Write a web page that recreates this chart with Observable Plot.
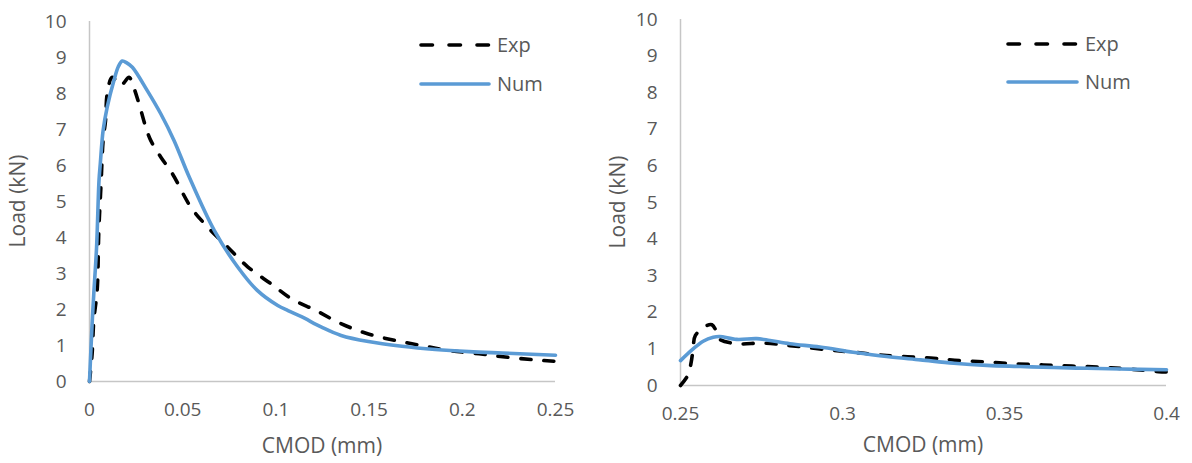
<!DOCTYPE html>
<html>
<head>
<meta charset="utf-8">
<script src="https://cdn.jsdelivr.net/npm/d3@7"></script>
<script src="https://cdn.jsdelivr.net/npm/@observablehq/plot@0.6"></script>
<style>
  html, body { margin: 0; padding: 0; background: #ffffff; }
  #wrap { position: relative; width: 1192px; height: 463px; overflow: hidden; }
  #left, #right { position: absolute; top: 0; }
  #left { left: 0; }
  #right { left: 596px; }
  svg { font-family: "Open Sans", sans-serif; }
</style>
</head>
<body>
<div id="wrap"><div id="left"></div><div id="right"></div></div>
<script>
// ---- Data (CMOD in mm, Load in kN) ----
const seriesNames = ["Exp", "Num"];

const leftExpX = [0, 0.0014, 0.0023, 0.0041, 0.005, 0.0062, 0.0073, 0.0086, 0.0095, 0.0122, 0.0167, 0.0212, 0.023, 0.0266, 0.0302, 0.0329, 0.0383, 0.0445, 0.0544, 0.0634, 0.0742, 0.085, 0.0975, 0.1083, 0.1215, 0.1352, 0.1496, 0.164, 0.178, 0.193, 0.209, 0.223, 0.239, 0.25];
const leftExpY = [0, 0.77, 1.69, 2.53, 4.19, 5.5, 6.69, 7.25, 7.99, 8.45, 8.22, 8.45, 8.27, 7.71, 7.06, 6.69, 6.23, 5.77, 4.84, 4.29, 3.73, 3.18, 2.71, 2.30, 1.97, 1.60, 1.32, 1.14, 1.0, 0.86, 0.77, 0.68, 0.6, 0.56];

const leftNumX = [0, 0.0014, 0.0023, 0.0038, 0.0051, 0.0058, 0.0073, 0.0095, 0.0131, 0.0155, 0.0176, 0.02, 0.023, 0.031, 0.0383, 0.0454, 0.0535, 0.067, 0.0795, 0.090, 0.101, 0.1065, 0.1137, 0.1245, 0.135, 0.1496, 0.1676, 0.1855, 0.2035, 0.2214, 0.25];
const leftNumY = [0, 1.6, 2.44, 3.73, 5.58, 6.05, 6.97, 7.62, 8.36, 8.75, 8.9, 8.85, 8.73, 8.08, 7.43, 6.69, 5.68, 4.19, 3.18, 2.53, 2.11, 1.97, 1.80, 1.51, 1.28, 1.11, 0.98, 0.89, 0.83, 0.79, 0.73];

const rightExpX = [0.25, 0.2524, 0.2533, 0.2539, 0.2546, 0.2582, 0.2597, 0.2612, 0.2618, 0.2673, 0.2755, 0.2838, 0.293, 0.3033, 0.3136, 0.3272, 0.3364, 0.3451, 0.3539, 0.362, 0.3708, 0.3796, 0.3883, 0.3975, 0.4];
const rightExpY = [0, 0.3, 0.64, 1.0, 1.37, 1.64, 1.66, 1.45, 1.28, 1.14, 1.16, 1.09, 1.0, 0.91, 0.82, 0.75, 0.68, 0.64, 0.59, 0.56, 0.53, 0.50, 0.45, 0.38, 0.37];

const rightNumX = [0.25, 0.2539, 0.257, 0.2601, 0.2621, 0.2673, 0.2735, 0.2776, 0.2838, 0.293, 0.3033, 0.3136, 0.3241, 0.3343, 0.3446, 0.3549, 0.3652, 0.3755, 0.3858, 0.4];
const rightNumY = [0.68, 1.0, 1.21, 1.32, 1.34, 1.26, 1.28, 1.23, 1.14, 1.05, 0.91, 0.79, 0.70, 0.61, 0.55, 0.52, 0.49, 0.47, 0.45, 0.43];

const leftXTicks = [0, 0.05, 0.1, 0.15, 0.2, 0.25];
const rightXTicks = [0.25, 0.3, 0.35, 0.4];
const yTicks = [0, 1, 2, 3, 4, 5, 6, 7, 8, 9, 10];

const xTitle = "CMOD (mm)";
const yTitle = "Load (kN)";

// ---- Styles ----
const textColor = "#595959";
const axisColor = "#c6c6c6";
const expColor = "#000000";
const numColor = "#5b9bd5";
const dash = "10,13";

const toRows = (xs, ys) => xs.map((x, i) => ({x, y: ys[i]}));

function panel(cfg) {
  const exp = toRows(cfg.expX, cfg.expY);
  const num = toRows(cfg.numX, cfg.numY);
  const svg = Plot.plot({
    width: 596,
    height: 463,
    marginLeft: cfg.ml,
    marginRight: cfg.mr,
    marginTop: cfg.mt,
    marginBottom: cfg.mb,
    style: {fontFamily: "'Open Sans', sans-serif", fontSize: "19px", color: textColor, background: "#ffffff"},
    x: {domain: cfg.xDomain, ticks: cfg.xTicks},
    y: {domain: [0, 10], ticks: yTicks},
    marks: [
      Plot.axisX({ticks: cfg.xTicks, tickSize: 0, tickPadding: 21, tickFormat: d => String(+d.toFixed(2)), label: null, fontSize: 19, fill: textColor}),
      Plot.axisY({ticks: yTicks, tickSize: 0, tickPadding: 23, label: null, fontSize: 19, fill: textColor}),
      Plot.ruleY([0], {stroke: axisColor, strokeWidth: 1.5}),
      Plot.ruleX([cfg.xDomain[0]], {stroke: axisColor, strokeWidth: 1.5}),
      Plot.line(exp, {x: "x", y: "y", stroke: expColor, strokeWidth: 3.6, strokeDasharray: dash, strokeLinecap: "round", curve: "catmull-rom"}),
      Plot.line(num, {x: "x", y: "y", stroke: numColor, strokeWidth: 3.6, curve: "catmull-rom"})
    ]
  });
  const s = d3.select(svg);
  // axis titles
  s.append("text")
    .attr("transform", `translate(${cfg.yTitleX},${cfg.yTitleY}) rotate(-90)`)
    .attr("text-anchor", "middle").attr("dy", "0.35em")
    .attr("fill", textColor).style("font-size", "21px").text(yTitle);
  s.append("text")
    .attr("x", cfg.xTitleX).attr("y", cfg.xTitleY)
    .attr("text-anchor", "middle").attr("dy", "0.35em")
    .attr("fill", textColor).style("font-size", "21px").text(xTitle);
  // legend
  const lg = s.append("g");
  seriesNames.forEach((name, i) => {
    const y = cfg.legY[i];
    lg.append("line").attr("x1", cfg.legX1).attr("x2", cfg.legX2).attr("y1", y).attr("y2", y)
      .attr("stroke", i === 0 ? expColor : numColor).attr("stroke-width", 3.6)
      .attr("stroke-linecap", "round")
      .attr("stroke-dasharray", i === 0 ? "11.5,16.5" : null);
    lg.append("text").attr("x", cfg.legText).attr("y", y).attr("dy", "0.35em")
      .attr("text-anchor", "start")
      .attr("fill", textColor).style("font-size", "20px").text(name);
  });
  return svg;
}

document.getElementById("left").appendChild(panel({
  expX: leftExpX, expY: leftExpY, numX: leftNumX, numY: leftNumY,
  xDomain: [0, 0.25], xTicks: leftXTicks,
  ml: 89, mr: 41, mt: 21, mb: 82,
  yTitleX: 18, yTitleY: 201, xTitleX: 322, xTitleY: 446,
  legX1: 421, legX2: 489, legText: 497, legY: [45, 84]
}));

document.getElementById("right").appendChild(panel({
  expX: rightExpX, expY: rightExpY, numX: rightNumX, numY: rightNumY,
  xDomain: [0.25, 0.4], xTicks: rightXTicks,
  ml: 84, mr: 26, mt: 19, mb: 78,
  yTitleX: 22, yTitleY: 202, xTitleX: 327, xTitleY: 445,
  legX1: 412, legX2: 481, legText: 489, legY: [44, 82]
}));
</script>
</body>
</html>
